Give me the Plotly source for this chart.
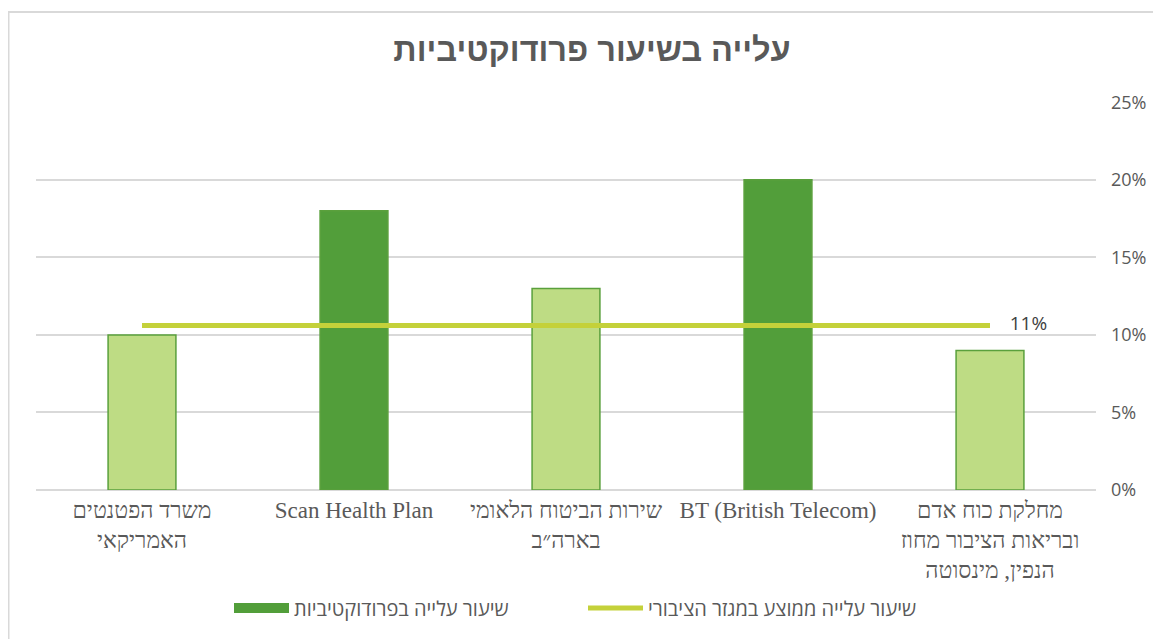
import plotly.graph_objects as go

# ---- data ----
categories = [
    "משרד הפטנטים<br>האמריקאי",
    "Scan Health Plan",
    "שירות הביטוח הלאומי<br>בארה״ב",
    "BT (British Telecom)",
    "מחלקת כוח אדם<br>ובריאות הציבור מחוז<br>הנפין, מינסוטה",
]
productivity_values = [10, 18, 13, 20, 9]
is_dark = [False, True, False, True, False]
public_avg_value = 10.6
public_avg_label = "11%"
y_tick_vals = [0, 5, 10, 15, 20, 25]
y_tick_text = ["0%", "5%", "10%", "15%", "20%", "25%"]

series_bar_name = "שיעור עלייה בפרודוקטיביות"
series_line_name = "שיעור עלייה ממוצע במגזר הציבורי"
title_text = "עלייה בשיעור פרודוקטיביות"

DARK = "#529E3A"
LIGHT = "#BEDC84"
EDGE = "#5AA03C"
LINE = "#C4D13A"
TXT = "#595959"

# page has an 8px body margin, so the figure is sized/offset to compensate
OFF = 8
W, H = 1161 - OFF, 639 - OFF
L, T = 36 - OFF, 102 - OFF
R = W - (1096 - OFF)
B = H - (490 - OFF)
pw, ph = W - L - R, H - T - B

dark_vals = [v if d else None for v, d in zip(productivity_values, is_dark)]
light_vals = [None if d else v for v, d in zip(productivity_values, is_dark)]

fig = go.Figure()
fig.add_trace(go.Bar(
    x=categories, y=dark_vals, name=series_bar_name, legendgroup="bars",
    marker=dict(color=DARK, line=dict(color=EDGE, width=1.5)),
    showlegend=False,
))
fig.add_trace(go.Bar(
    x=categories, y=light_vals, name=series_bar_name, legendgroup="bars",
    marker=dict(color=LIGHT, line=dict(color=EDGE, width=1.5)),
    showlegend=False,
))
# legend key for the bar series (wide rectangle, as in the original)
fig.add_trace(go.Scatter(
    x=categories, y=[None] * len(categories), name=series_bar_name, legendgroup="bars",
    mode="lines", line=dict(color=DARK, width=12), showlegend=True, hoverinfo="skip",
))
fig.add_trace(go.Scatter(
    x=categories, y=[public_avg_value] * len(categories), name=series_line_name,
    mode="lines+text",
    line=dict(color=LINE, width=5),
    text=[""] * (len(categories) - 1) + ["    " + public_avg_label],
    textposition="middle right",
    textfont=dict(family="Open Sans", size=19, color="#404040"),
    cliponaxis=False,
))

def px_x(p):  # page px -> paper
    return (p - OFF - L) / pw

def px_y(p):
    return (H - B - (p - OFF)) / ph

fig.update_layout(
    width=W, height=H,
    margin=dict(l=L, r=R, t=T, b=B),
    paper_bgcolor="white", plot_bgcolor="white",
    barmode="overlay", bargap=0.68,
    title=dict(text="<b>" + title_text + "</b>", xref="paper", x=px_x(592), xanchor="center",
               y=1 - (50 - OFF) / H, yanchor="middle",
               font=dict(family="Liberation Sans", size=32.5, color=TXT)),
    xaxis=dict(showgrid=False, showline=False, zeroline=False, ticks="",
               tickfont=dict(family="Liberation Serif", size=23, color=TXT),
               tickangle=0, ticklabelstandoff=4),
    yaxis=dict(range=[0, 25.02], side="right", tickvals=y_tick_vals, ticktext=y_tick_text,
               showgrid=True, gridcolor="#D9D9D9", gridwidth=1.5,
               zeroline=True, zerolinecolor="#D9D9D9", zerolinewidth=1.5,
               showline=False, ticks="", ticklabelstandoff=14,
               tickfont=dict(family="Open Sans", size=18, color=TXT)),
    legend=dict(orientation="h", x=px_x(229), xanchor="left", y=px_y(608), yanchor="middle",
                font=dict(family="Open Sans", size=20, color=TXT), itemwidth=55,
                bgcolor="rgba(0,0,0,0)", entrywidth=284, entrywidthmode="pixels"),
    shapes=[dict(type="rect", xref="paper", yref="paper",
                 x0=px_x(OFF + 0.5), x1=px_x(1185), y0=px_y(12), y1=px_y(680),
                 line=dict(color="#D9D9D9", width=2), fillcolor="rgba(0,0,0,0)", layer="below")],
)

fig.write_html("out.html")
